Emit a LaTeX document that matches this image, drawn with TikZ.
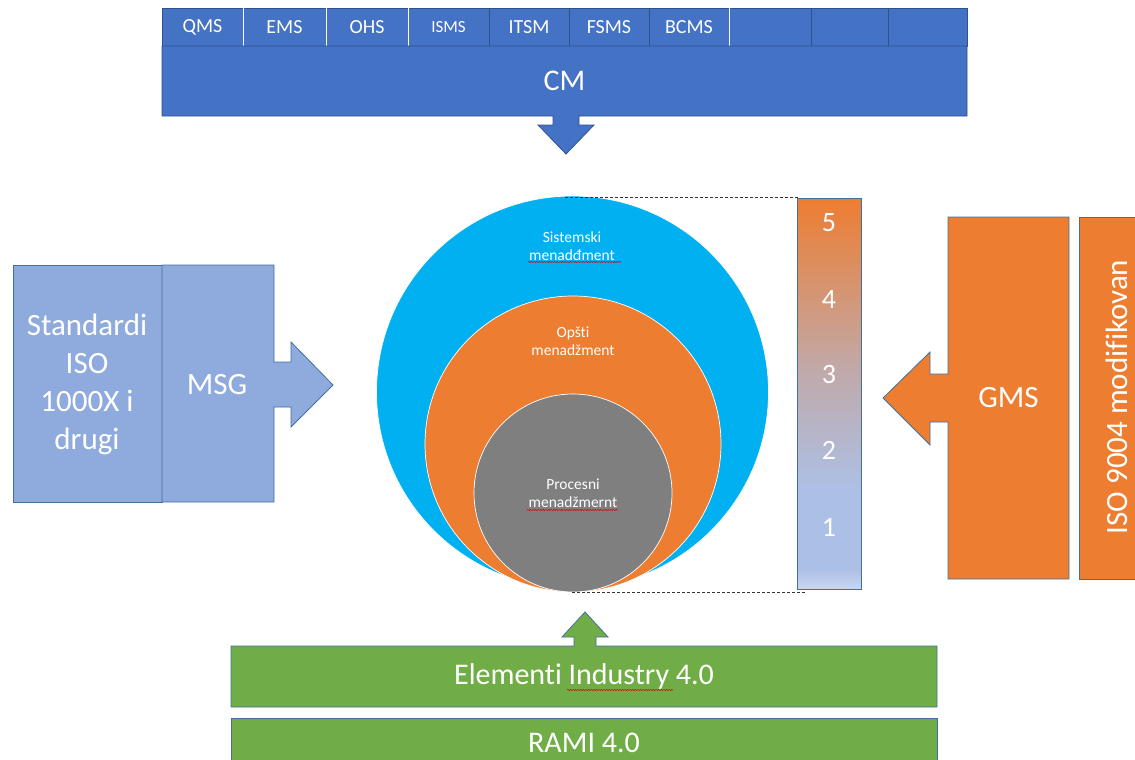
\documentclass[tikz,border=0pt]{standalone}
\usepackage{fontspec}
\setmainfont{Carlito}[Ligatures=NoCommon]
\usetikzlibrary{positioning,decorations.pathmorphing}

\definecolor{cmblue}{HTML}{4472C4}
\definecolor{cmedge}{HTML}{2F528F}
\definecolor{stdblue}{HTML}{8FAADC}
\definecolor{shapeedge}{HTML}{41719C}
\definecolor{skyblue}{HTML}{00B0F0}
\definecolor{mgmtorange}{HTML}{ED7D31}
\definecolor{mgmtgray}{HTML}{7F7F7F}
\definecolor{indgreen}{HTML}{70AD47}
\definecolor{barlight}{RGB}{204,214,238}
\definecolor{barblue}{RGB}{172,192,230}
\definecolor{barmid}{RGB}{192,170,172}

% level bar: bottom 25bp .. top 75bp
\pgfdeclareverticalshading{levelbar}{100bp}{color(0bp)=(barlight); color(25bp)=(barlight);
  color(27.5bp)=(barblue); color(37.5bp)=(barblue); color(52.5bp)=(barmid);
  color(75bp)=(mgmtorange); color(100bp)=(mgmtorange)}

\newcommand{\fsz}[2]{\fontsize{#1}{#2}\selectfont}

\begin{document}
\begin{tikzpicture}[
  x=1pt,
  y=-1pt, % <-- pixel grid, y downwards
  line join=miter,
  topbox/.style={draw=cmedge, fill=cmblue, line width=0.6pt, text=white,
    inner sep=0pt, minimum height=38pt, font=\fsz{20}{24}},
  blockfill/.style={line width=0.8pt},
  label/.style={text=white, inner sep=0pt, align=center},
  ring/.style={circle, draw=white, line width=0.7pt, inner sep=0pt},
  ringtext/.style={text=white, align=center, inner sep=0pt, font=\fsz{15.5}{18}},
  guide/.style={dashed, dash pattern=on 3pt off 2pt, line width=0.8pt, black!80},
  typo/.style={red!85!black, line width=0.5pt, decorate,
    decoration={snake, amplitude=0.6pt, segment length=2.6pt}}
]
\useasboundingbox (0,0) rectangle (1135,760);

% --- Top: CM with the management systems ---
\foreach \c/\w/\lab [count=\i] in {202.5/81/QMS, 284.5/83/EMS, 367/82/OHS,
    448.5/81/{\fsz{17}{20}ISMS}, 529/80/ITSM, 609/80/FSMS, 689/80/BCMS,
    770/82/{}, 849.5/77/{}, 927.5/79/{}}
  \node[topbox, minimum width=\w pt] (ms\i) at (\c,27) {\lab};
% white seams between the first boxes
\foreach \i in {1,2,3,7}
  \draw[white, line width=1.2pt] (ms\i.north east) -- (ms\i.south east);

\fill[cmblue] (162,46) -- (967,46) -- (967,116) -- (579,116) -- (579,125)
  -- (594,125) -- (566,154) -- (538,125) -- (553,125) -- (553,116)
  -- (162,116) -- cycle;
\draw[cmedge, blockfill] (162,46) -- (967,46) -- (967,116) -- (579,116) -- (579,125)
  -- (594,125) -- (566,154) -- (538,125) -- (553,125) -- (553,116)
  -- (162,116) -- cycle;
\node[label, font=\fsz{30}{36}] (cm) at (564.5,81) {CM};

% --- Centre: nested management circles ---
\node[ring, fill=skyblue, minimum size=392pt] (sys) at (572.5,392) {};
\node[ring, fill=mgmtorange, minimum size=296pt] (gen) at (573,444) {};
\node[ring, fill=mgmtgray, minimum size=198pt] (proc) at (573,493) {};

\node[ringtext] (systxt) at (572,246) {Sistemski\\menadđment};
\node[ringtext] (gentxt) at (573,341) {Opšti\\menadžment};
\node[ringtext] (proctxt) at (573,493) {Procesni\\menadžmernt};
\draw[typo] (528,262) -- (621,262);
\draw[typo] (527,510) -- (618,510);

% dashed guides to the level bar
\coordinate (gtop) at (565,197);
\coordinate (gbot) at (572,592);
\coordinate (gtopend) at (798,197);
\coordinate (gbotend) at (806,592);
\draw[guide] (gtop) -- (gtopend);
\draw[guide] (gbot) -- (gbotend);

% --- Level bar 1..5 ---
\node[shade, shading=levelbar, draw=shapeedge, line width=0.8pt, inner sep=0pt,
  minimum width=64pt, minimum height=391pt] (bar) at (829,393.5) {};
\foreach \n/\y in {5/223, 4/300, 3/375, 2/450, 1/527}
  \node[label, font=\fsz{28}{32}] (lvl\n) at (829,\y) {\n};

% --- Right: GMS and ISO 9004 ---
\filldraw[fill=mgmtorange, draw=shapeedge, blockfill] (1069,217) -- (948,217)
  -- (948,374) -- (930,374) -- (930,352) -- (883,398) -- (930,445)
  -- (930,422) -- (948,422) -- (948,579) -- (1069,579) -- cycle;
\node[label, font=\fsz{31}{36}] (gms) at (1008.5,398) {GMS};
\node[fill=mgmtorange, draw=shapeedge, line width=0.8pt, inner sep=0pt,
  minimum width=71pt, minimum height=362pt] (isobox) at (1114.5,398) {};
\node[label, rotate=90, font=\fsz{31}{36}] (iso) at (1117,397) {ISO 9004 modifikovan};

% --- Left: standards and MSG ---
\node[fill=stdblue, draw=shapeedge, line width=0.8pt, inner sep=0pt,
  minimum width=149pt, minimum height=237pt] (stdbox) at (87.5,383.5) {};
\node[label, font=\fsz{31}{38}] (std) at (87,384) {Standardi\\ISO\\1000X i\\drugi};
\filldraw[fill=stdblue, draw=shapeedge, blockfill] (162,265) -- (274,265)
  -- (274,362) -- (291,362) -- (291,342) -- (333,385) -- (291,427)
  -- (291,407) -- (274,407) -- (274,502) -- (162,502) -- cycle;
\node[label, font=\fsz{31}{36}] (msg) at (217,385) {MSG};

% --- Bottom: Industry 4.0 ---
\filldraw[fill=indgreen, draw=shapeedge, blockfill] (231,646) -- (574,646)
  -- (574,637) -- (562,637) -- (585,612) -- (608,637) -- (596,637)
  -- (596,646) -- (937,646) -- (937,707) -- (231,707) -- cycle;
\node[label, font=\fsz{30}{36}] (ind) at (584,676) {Elementi Industry 4.0};
\draw[typo] (567,690) -- (673,690);
\node[fill=indgreen, draw=shapeedge, line width=0.8pt, inner sep=0pt,
  minimum width=706pt, minimum height=60pt] (ramibox) at (584,748) {};
\node[label, font=\fsz{30}{36}] (rami) at (584,743) {RAMI 4.0};

\end{tikzpicture}
\end{document}
